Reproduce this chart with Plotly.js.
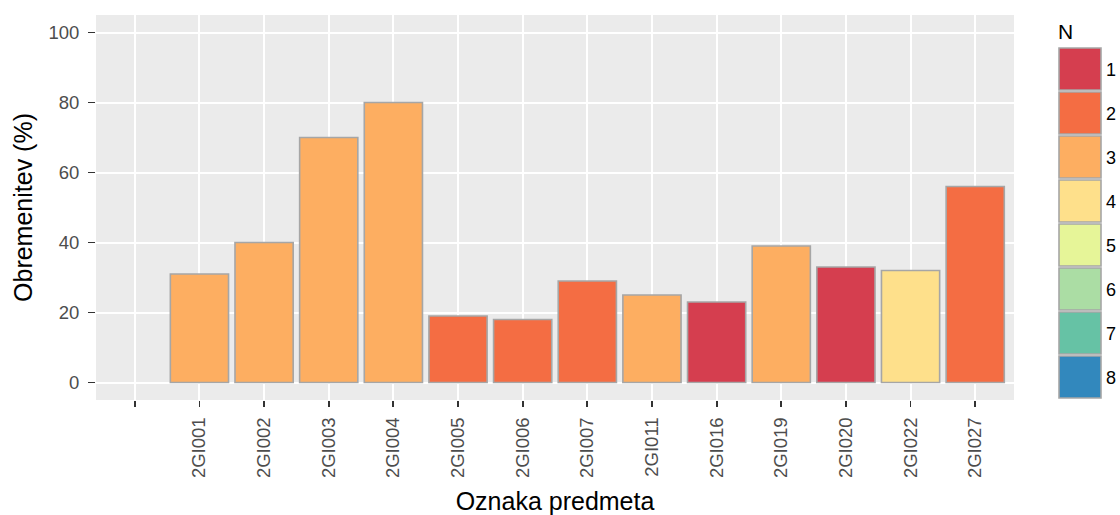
<!DOCTYPE html>
<html>
<head>
<meta charset="utf-8">
<script src="https://cdn.plot.ly/plotly-3.0.1.min.js"></script>
<style>
  body { margin: 0; background: #fff; }
  #chart { width: 1120px; height: 515px; }
</style>
</head>
<body>
<div id="chart"></div>
<script>
// data
var codes = [' ', '2GI001', '2GI002', '2GI003', '2GI004', '2GI005', '2GI006', '2GI007',
             '2GI011', '2GI016', '2GI019', '2GI020', '2GI022', '2GI027'];
var load = [null, 31, 40, 70, 80, 19, 18, 29, 25, 23, 39, 33, 32, 56];
var nGroup = [null, 3, 3, 3, 3, 2, 2, 2, 3, 1, 3, 1, 4, 2];
var levels = ['1', '2', '3', '4', '5', '6', '7', '8'];
var spectral = ['#D53E4F', '#F46D43', '#FDAE61', '#FEE08B', '#E6F598', '#ABDDA4', '#66C2A5', '#3288BD'];

// panel box in pixels
var L = 96, R = 1014, T = 15, B = 400;
function px(x) { return (x - L) / (R - L); }
function py(y) { return (B - y) / (B - T); }

var FONT = 'Liberation Sans, Arial, sans-serif';

var trace = {
  type: 'bar',
  x: codes,
  y: load,
  width: 0.9,
  marker: {
    color: nGroup.map(function (n) { return n ? spectral[n - 1] : '#ffffff'; }),
    line: { color: '#A6A6A6', width: 1.6 }
  },
  showlegend: false,
  hoverinfo: 'x+y'
};

// legend drawn by hand, ggplot style keys
var shapes = [], annotations = [];
levels.forEach(function (lv, i) {
  var top = 48 + 44 * i;
  shapes.push({
    type: 'rect', xref: 'paper', yref: 'paper',
    x0: px(1059), x1: px(1101), y0: py(top + 42), y1: py(top),
    fillcolor: spectral[i], line: { color: '#A6A6A6', width: 1.6 }
  });
  annotations.push({
    xref: 'paper', yref: 'paper', x: px(1104), y: py(top + 22),
    xanchor: 'left', yanchor: 'middle', showarrow: false, text: lv,
    font: { family: FONT, size: 18, color: '#000' }
  });
});
annotations.push({
  xref: 'paper', yref: 'paper', x: px(1056), y: py(31),
  xanchor: 'left', yanchor: 'middle', showarrow: false, text: 'N',
  font: { family: FONT, size: 21, color: '#000' }
});

var layout = {
  width: 1120, height: 515,
  margin: { l: L, r: 1120 - R, t: T, b: 515 - B },
  paper_bgcolor: '#ffffff',
  plot_bgcolor: '#EBEBEB',
  font: { family: FONT, color: '#4D4D4D', size: 18 },
  bargap: 0.1,
  xaxis: {
    type: 'category',
    categoryorder: 'array',
    categoryarray: codes,
    range: [-0.6, codes.length - 0.4],
    tickangle: -90,
    ticks: 'outside', ticklen: 6, tickwidth: 1.8, tickcolor: '#333333',
    ticklabelstandoff: 3,
    showgrid: true, gridcolor: '#ffffff', gridwidth: 2,
    showline: false, zeroline: false,
    automargin: false,
    tickfont: { size: 18.5, color: '#4D4D4D' },
    title: { text: 'Oznaka predmeta', standoff: 16, font: { size: 25, color: '#000' } }
  },
  yaxis: {
    range: [-5, 105],
    tickvals: [0, 20, 40, 60, 80, 100],
    ticks: 'outside', ticklen: 7, tickwidth: 1.8, tickcolor: '#333333',
    ticklabelstandoff: 5,
    showgrid: true, gridcolor: '#ffffff', gridwidth: 2,
    showline: false, zeroline: false,
    automargin: false,
    tickfont: { size: 18.5, color: '#4D4D4D' },
    title: { text: 'Obremenitev (%)', standoff: 8, font: { size: 25, color: '#000' } }
  },
  shapes: shapes,
  annotations: annotations
};

Plotly.newPlot('chart', [trace], layout, { displayModeBar: false, staticPlot: true });
</script>
</body>
</html>
